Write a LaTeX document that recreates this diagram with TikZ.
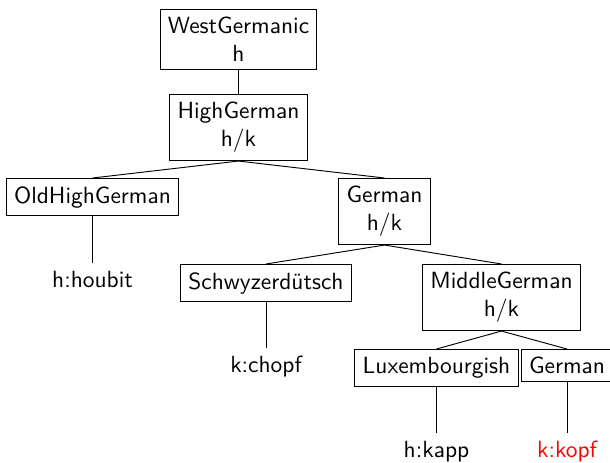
\documentclass[tikz,border=0pt]{standalone}
\usepackage{fontspec}
\setsansfont{Latin Modern Sans}
\begin{document}
\begin{tikzpicture}[
    x=0.427pt, y=-0.427pt,
    every node/.style={font=\sffamily, anchor=north, align=center},
    langbox/.style={draw, line width=0.4pt},
    reflex/.style={},
    branch/.style={draw, line width=0.4pt}
  ]
  \useasboundingbox (0,0) rectangle (610,462);

  % language nodes
  \node[langbox] (wg)    at (238.5,9)   {WestGermanic\\h};
  \node[langbox] (hg)    at (238.5,94)  {HighGerman\\h/k};
  \node[langbox] (ohg)   at (92.5,178)  {OldHighGerman};
  \node[langbox] (ger)   at (384.5,178) {German\\h/k};
  \node[langbox] (schw)  at (266,264)   {Schwyzerdütsch};
  \node[langbox] (mg)    at (501.5,264) {MiddleGerman\\h/k};
  \node[langbox] (lux)   at (436.5,349) {Luxembourgish};
  \node[langbox] (nhg)   at (567,349)   {German};

  % attested forms
  \node[reflex] (houbit) at (92.5,263)  {h:houbit};
  \node[reflex] (chopf)  at (266,348)   {k:chopf};
  \node[reflex] (kapp)   at (436.5,433) {h:kapp};
  \node[reflex, text=red] (kopf) at (567,433) {k:kopf};

  % branches
  \path[branch] (wg.south)   -- (hg.north);
  \path[branch] (hg.south)   -- (ohg.north);
  \path[branch] (hg.south)   -- (ger.north);
  \path[branch] (ohg.south)  -- (houbit.north);
  \path[branch] (ger.south)  -- (schw.north);
  \path[branch] (ger.south)  -- (mg.north);
  \path[branch] (schw.south) -- (chopf.north);
  \path[branch] (mg.south)   -- (lux.north);
  \path[branch] (mg.south)   -- (nhg.north);
  \path[branch] (lux.south)  -- (kapp.north);
  \path[branch] (nhg.south)  -- (kopf.north);
\end{tikzpicture}
\end{document}
